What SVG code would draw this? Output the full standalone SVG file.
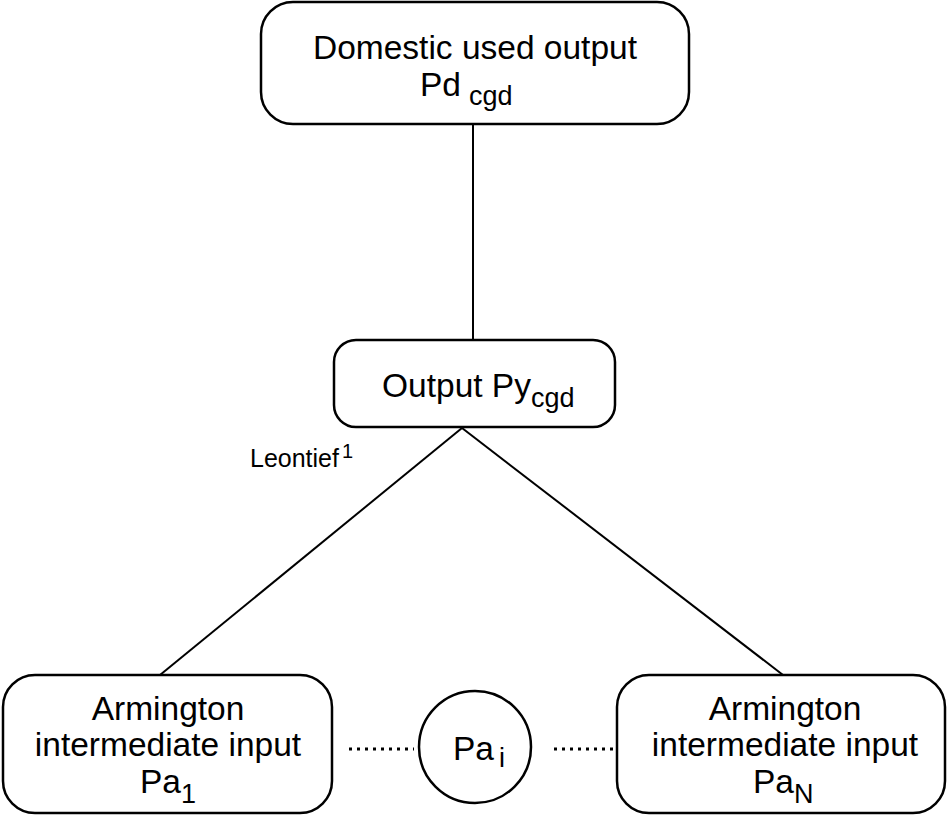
<svg xmlns="http://www.w3.org/2000/svg" width="947" height="816" viewBox="0 0 947 816">
<style>
.box{fill:#fff;stroke:#000;stroke-width:2.5}
.t{font-family:"Liberation Sans",Arial,sans-serif;font-size:33.5px;fill:#000}
.sub{font-size:27px}
.lbl{font-family:"Liberation Sans",Arial,sans-serif;font-size:25px;fill:#000}
.ln{stroke:#000;stroke-width:2;fill:none}
.dot{stroke:#000;stroke-width:3;fill:none;stroke-dasharray:3 5}
</style>
<rect width="947" height="816" fill="#fff"/>
<g id="connectors">
<line class="ln" x1="473" y1="125" x2="473" y2="340"/>
<line class="ln" x1="462" y1="428" x2="160" y2="675"/>
<line class="ln" x1="462" y1="428" x2="783" y2="675"/>
<line class="dot" x1="349" y1="749" x2="414" y2="749"/>
<line class="dot" x1="554" y1="749" x2="617" y2="749"/>
</g>
<g id="domestic">
<rect class="box" x="261" y="2" width="428" height="122" rx="32"/>
<text class="t" x="475" y="59" text-anchor="middle">Domestic used output</text>
<text class="t" x="420" y="96">Pd<tspan class="sub" dx="8" dy="9">cgd</tspan></text>
</g>
<g id="output">
<rect class="box" x="334" y="340" width="281" height="87" rx="22"/>
<text class="t" x="382" y="397">Output Py<tspan class="sub" dy="10">cgd</tspan></text>
</g>
<g id="leontief">
<text class="lbl" x="250" y="467">Leontief<tspan font-size="20" dx="3" dy="-9">1</tspan></text>
</g>
<g id="arm1">
<rect class="box" x="3" y="675" width="329" height="138" rx="32"/>
<text class="t" x="168" y="720" text-anchor="middle">Armington</text>
<text class="t" x="168" y="756" text-anchor="middle">intermediate input</text>
<text class="t" x="140" y="793">Pa<tspan class="sub" dy="10">1</tspan></text>
</g>
<g id="pai">
<circle class="box" cx="475" cy="747" r="56"/>
<text class="t" x="453" y="760">Pa<tspan class="sub" dx="5" dy="7">i</tspan></text>
</g>
<g id="armN">
<rect class="box" x="617" y="675" width="328" height="138" rx="32"/>
<text class="t" x="785" y="720" text-anchor="middle">Armington</text>
<text class="t" x="785" y="756" text-anchor="middle">intermediate input</text>
<text class="t" x="753" y="793">Pa<tspan class="sub" dy="10">N</tspan></text>
</g>
</svg>
